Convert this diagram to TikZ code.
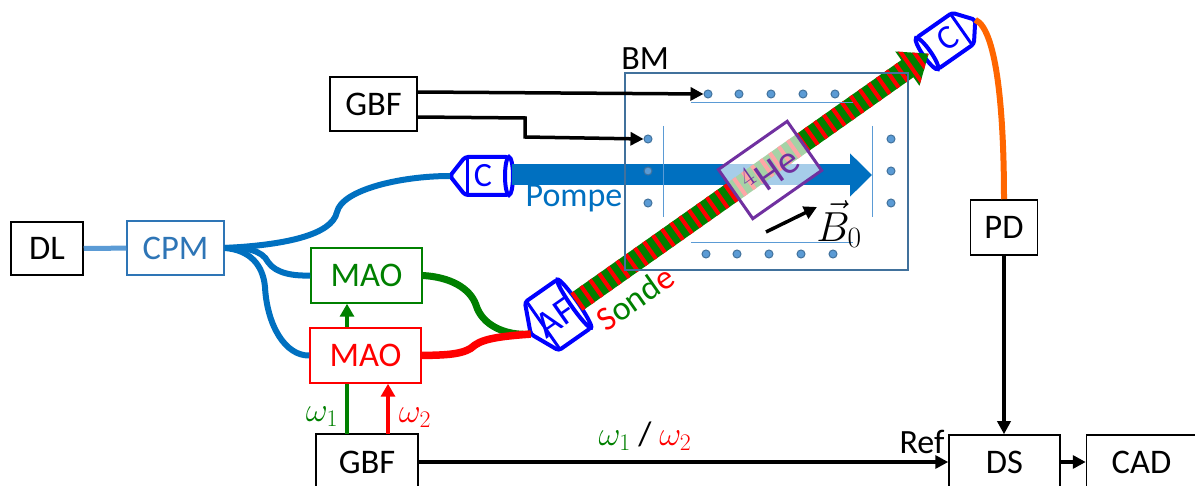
\RequirePackage{fix-cm}
\documentclass[tikz,border=0pt]{standalone}
\usepackage{fontspec}
\setmainfont{Carlito}
\usepackage{tikz}
\usetikzlibrary{arrows.meta, positioning, calc}
\definecolor{colblue}{HTML}{0000FF}
\definecolor{fibblue}{HTML}{0070C0}
\definecolor{dlblue}{HTML}{5B9BD5}
\definecolor{cpmblue}{HTML}{2E75B6}
\definecolor{bmdraw}{HTML}{41719C}
\definecolor{maogreen}{HTML}{008000}
\definecolor{heviolet}{HTML}{7030A0}
\definecolor{orfib}{HTML}{FF6600}
\tikzset{
  blk/.style={rectangle, draw=black, line width=1.5pt, inner sep=0pt, align=center, font=\fontsize{34.5}{36}\selectfont},
  dev/.style={blk, minimum width=102pt, minimum height=56pt},
  cpmbox/.style={blk, draw=cpmblue, text=cpmblue, minimum width=97pt, minimum height=54pt},
  mao/.style={blk, minimum width=111pt, minimum height=55pt},
  lab/.style={inner sep=0pt, font=\fontsize{34}{36}\selectfont},
  dotpt/.style={circle, draw=bmdraw, fill=dlblue, line width=1pt, minimum size=8pt, inner sep=0pt},
  thinl/.style={draw=dlblue, line width=1pt},
  arr/.style={-{Triangle[length=13pt,width=13pt]}, line width=3.5pt, draw=black},
  fibre/.style={line width=6pt, draw=fibblue},
  colli/.pic={
    \draw[colblue, line width=4pt, rounded corners=3pt, fill=white]
      (-22,-19) -- (22,-19) -- (22,19) -- (-22,19) -- (-37,0) -- cycle;
    \draw[colblue, line width=3pt] (-20,-19) -- (-20,19);
    \draw[colblue, line width=4pt, fill=white] (22,0) ellipse [x radius=4, y radius=19];
    \coordinate (-tip) at (-37,0);
    \coordinate (-lens) at (25,0);
  },
}
\begin{document}
\begin{tikzpicture}[x=1pt, y=-1pt]
  \useasboundingbox (0,0) rectangle (1195,486);
  % boxes
  \node[blk, minimum width=72pt, minimum height=53pt] (dl) at (47,248.5) {DL};
  \node[cpmbox] (cpm) at (175.5,248) {CPM};
  \node[mao, draw=maogreen, text=maogreen] (maog) at (366.5,275.5) {MAO};
  \node[mao, draw=red, text=red] (maor) at (365.5,355.5) {MAO};
  \node[blk, minimum width=87pt, minimum height=54pt] (gbfa) at (373.5,104) {GBF};
  \node[dev] (gbfb) at (367,462) {GBF};
  \node[blk, minimum width=67pt, minimum height=55pt] (pd) at (1004,227.5) {PD};
  \node[blk, minimum width=111pt, minimum height=54pt] (ds) at (1004.5,462) {DS};
  \node[blk, minimum width=110pt, minimum height=54pt, right=25pt of ds] (cad) {CAD};
  % collimators
  \pic (cpa) at (487,176) {colli};
  \pic[rotate=35, xscale=.9, yscale=1.55] (caf) at (558,315) {colli};
  \pic[rotate=215] (cdb) at (945,41) {colli};
  \coordinate (pumpend) at (872,175);
  % pump beam
  \draw[line width=21pt, draw=fibblue, -{Triangle[length=22pt,width=42pt]}] (cpa-lens |- pumpend) -- (pumpend);
  % probe beam
  \begin{scope}[shift={(caf-lens)}, rotate=35.2]
    \clip (0,-10.5) -- (405,-10.5) -- (405,-21) -- (431,0) -- (405,21) -- (405,10.5) -- (0,10.5) -- cycle;
    \fill[maogreen] (0,-22) rectangle (431,22);
    \foreach \x in {0,11,...,430} {
      \fill[red] (\x,-22) rectangle (\x+4,22);
    }
  \end{scope}
  % magnetic shield
  \node[draw=bmdraw, line width=1.5pt, minimum width=283pt, minimum height=197pt, inner sep=0pt] (bm) at (766.5,171.5) {};
  \node[lab, above=3pt of bm.north west, anchor=south west, xshift=-3pt] (bmlab) {BM};
  \foreach \x/\n in {708/1,739/2,771/3,803/4,835/5} {
    \node[dotpt] (top\n) at (\x,94) {};
    \node[dotpt] (bot\n) at (\x-2,254) {};
  }
  \foreach \y/\n in {139/1,171/2,203/3} {
    \node[dotpt] (lft\n) at (648,\y) {};
    \node[dotpt] (rgt\n) at (891,\y) {};
  }
  \draw[thinl] (691,103) -- (853,103);
  \draw[thinl] (691,243) -- (853,243);
  \draw[thinl] (663,126) -- (663,217);
  \draw[thinl] (872,126) -- (872,217);
  % cell
  \node[draw=heviolet, line width=3pt, fill=white, fill opacity=.65, text opacity=1, text=heviolet, rotate=35, minimum width=84pt, minimum height=60pt, inner sep=0pt, font=\fontsize{40}{42}\selectfont] (he) at (770,170) {$^4\mathrm{He}$};
  % collimator letters
  \node[lab, text=colblue] (cpat) at (483,176) {C};
  \node[lab, text=colblue, rotate=35, font=\fontsize{38}{40}\selectfont] (caft) at (556,318) {AF};
  \node[lab, text=colblue, rotate=35] (cdbt) at (948,38) {C};
  % fibres
  \draw[line width=5pt, draw=dlblue] (dl) -- (cpm);
  \draw[fibre] (cpm.east) .. controls (285,245) and (332,235) .. (337,212) .. controls (342,190) and (400,176) .. (cpa-tip);
  \draw[fibre] (cpm.east) .. controls (245,247) and (262,250) .. (268,262) .. controls (276,274) and (295,276) .. (maog.west);
  \draw[fibre] (cpm.east) .. controls (250,250) and (263,265) .. (265,287) .. controls (267,325) and (285,356) .. (maor.west);
  \draw[line width=7pt, draw=maogreen] (maog.east) .. controls (450,277) and (470,288) .. (476,305) .. controls (482,325) and (505,336) .. (caf-tip);
  \draw[line width=7.5pt, draw=red] (maor.east) .. controls (445,355) and (465,355) .. (475,345) .. controls (485,338) and (505,336) .. (caf-tip);
  \draw[line width=6pt, draw=orfib] (cdb-tip) .. controls (998,30) and (1004,120) .. (pd.north);
  % signals
  \coordinate (gbfaup) at (417,92);
  \coordinate (gbfalo) at (417,117);
  \draw[arr] (gbfaup) -- (top1.west);
  \draw[arr] (gbfalo) -- (525,118) -- (525,137) -- (lft1.west);
  \coordinate (wone) at (347,434);
  \coordinate (wtwo) at (388,434);
  \draw[line width=3.5pt, draw=maogreen] (wone) -- (wone |- maor.south);
  \draw[line width=3.5pt, draw=maogreen, -{Triangle[length=13pt,width=14pt]}] (wone |- maor.north) -- (wone |- maog.south);
  \draw[line width=3.5pt, draw=red, -{Triangle[length=13pt,width=14pt]}] (wtwo) -- (wtwo |- maor.south);
  \draw[arr] (gbfb) -- (ds);
  \draw[arr] (pd) -- (ds.north -| pd);
  \draw[arr] (ds) -- (cad);
  \coordinate (bzero) at (766,232);
  \coordinate (bone) at (817,207);
  \draw[arr] (bzero) -- (bone);
  % labels
  \node[lab, text=fibblue] (pompe) at (574,198) {Pompe};
  \node[lab, rotate=35] (sonde) at (635,298) {\textcolor{red}{S}\textcolor{maogreen}{ond}\textcolor{red}{e}};
  \node[lab, font=\fontsize{42}{44}\selectfont] (blab) at (839,224) {$\vec{B}_0$};
  \node[lab, text=maogreen] (wonel) at (322,417) {$\omega_1$};
  \node[lab, text=red] (wtwol) at (415,418) {$\omega_2$};
  \node[lab] (ref) at (922,442) {Ref};
  \node[lab] (wlab) at (645,436) {\textcolor{maogreen}{$\omega_1$} / \textcolor{red}{$\omega_2$}};
\end{tikzpicture}
\end{document}
